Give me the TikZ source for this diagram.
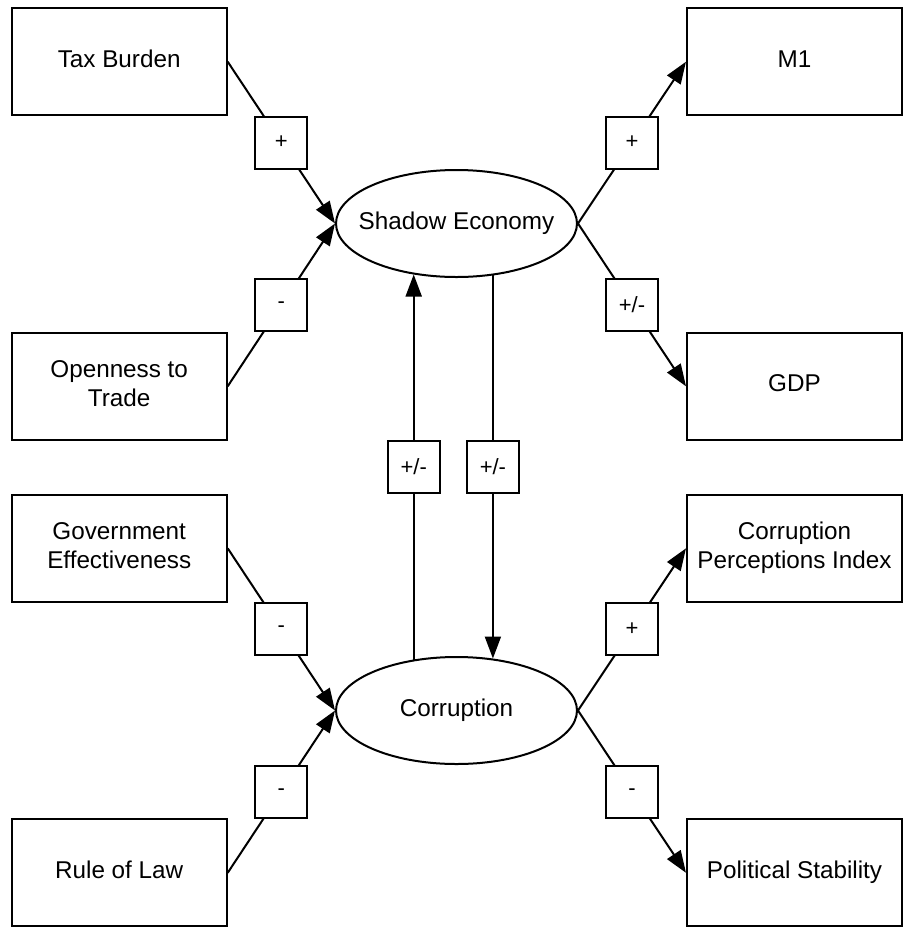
\documentclass[tikz,border=0pt]{standalone}
\usepackage{fontspec}
\setmainfont{Liberation Sans}
\usetikzlibrary{arrows.meta,shapes.geometric}

\tikzset{
  box/.style={draw=black, line width=1.5pt, minimum width=161.25pt,
    minimum height=80.25pt, inner sep=0pt, align=center,
    font=\fontsize{18.2}{21.8}\selectfont,
    execute at end node={\rule[-4.5pt]{0pt}{4.5pt}}},
  oval/.style={ellipse, draw=black, line width=1.5pt, minimum width=180.75pt,
    minimum height=80.25pt, inner sep=0pt,
    font=\fontsize{18.2}{21.8}\selectfont},
  sign/.style={draw=black, fill=white, line width=1.5pt, minimum width=39pt,
    minimum height=39pt, inner sep=0pt, font=\fontsize{16.5}{19}\selectfont},
  link/.style={line width=1.5pt, draw=black},
  arr/.style={link, -{Triangle[length=16.5pt,width=12pt]}},
}
% zero-width text so the ellipse keeps its set size
\newcommand{\ovaltext}[1]{\makebox[0pt]{#1}}

\begin{document}
\begin{tikzpicture}[x=0.75pt,y=-0.75pt]
\useasboundingbox (0,0) rectangle (906,936);

% latent constructs
\node[oval] (se)  at (456.5,223.5) {\ovaltext{Shadow Economy}};
\node[oval] (cor) at (456.5,710.5) {\ovaltext{Corruption}};

% causes (left column)
\node[box] (tax)  at (119.2,61.7)  {Tax Burden};
\node[box] (open) at (119.2,386.3) {Openness to\\Trade};
\node[box] (gov)  at (119.2,548.3) {Government\\Effectiveness};
\node[box] (rule) at (119.2,872.8) {Rule of Law};

% indicators (right column)
\node[box] (m1)  at (794.5,61.7)  {M1};
\node[box] (gdp) at (794.5,386.3) {GDP};
\node[box] (cpi) at (794.5,548.3) {Corruption\\Perceptions Index};
\node[box] (ps)  at (794.5,872.8) {Political Stability};

% causes -> shadow economy
\draw[arr] (tax.east)  -- node[sign] (s1) {+} (se.west);
\draw[arr] (open.east) -- node[sign] (s2) {-} (se.west);

% shadow economy -> indicators
\draw[arr] (se.east) -- node[sign] (s3) {+}   (m1.west);
\draw[arr] (se.east) -- node[sign] (s4) {+/-} (gdp.west);

% causes -> corruption
\draw[arr] (gov.east)  -- node[sign] (s5) {-} (cor.west);
\draw[arr] (rule.east) -- node[sign] (s6) {-} (cor.west);

% corruption -> indicators
\draw[arr] (cor.east) -- node[sign] (s7) {+} (cpi.west);
\draw[arr] (cor.east) -- node[sign] (s8) {-} (ps.west);

% mutual effects between the two constructs
\draw[arr] (cor.130) -- node[sign] (s9)  {+/-} (se.230);
\draw[arr] (se.305)  -- node[sign] (s10) {+/-} (cor.55);
\end{tikzpicture}
\end{document}
